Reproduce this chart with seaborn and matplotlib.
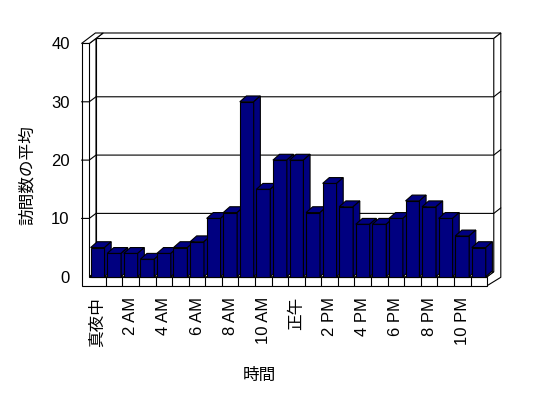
import matplotlib
matplotlib.use("Agg")
import matplotlib.pyplot as plt
import seaborn as sns
import pandas as pd
from matplotlib.patches import Polygon
from matplotlib.lines import Line2D

# ---- data ----
hour_labels = ["真夜中", "1 AM", "2 AM", "3 AM", "4 AM", "5 AM", "6 AM", "7 AM",
               "8 AM", "9 AM", "10 AM", "11 AM", "正午", "1 PM", "2 PM", "3 PM",
               "4 PM", "5 PM", "6 PM", "7 PM", "8 PM", "9 PM", "10 PM", "11 PM"]
visits = [5, 4, 4, 3, 4, 5, 6, 10, 11, 30, 15, 20, 20, 11, 16, 12,
          9, 9, 10, 13, 12, 10, 7, 5]
y_ticks = [0, 10, 20, 30, 40]
grid_values = [10, 20, 30]
x_title = "時間"
y_title = "訪問数の平均"

# ---- style ----
sns.set_style("white")
plt.rcParams['font.family'] = ['Liberation Sans', 'Noto Sans CJK JP']
plt.rcParams['text.color'] = 'black'
plt.rcParams['xtick.color'] = 'black'
plt.rcParams['ytick.color'] = 'black'

NAVY = "#000080"
W, H = 548, 398
fig = plt.figure(figsize=(W / 100, H / 100), dpi=100)
ax = fig.add_axes([81.5 / W, (H - 285.7) / H, 419.8 / W, 253.0 / H])

df = pd.DataFrame({"hour": hour_labels, "visits": visits})
BW = 0.84
sns.barplot(data=df, x="hour", y="visits", color=NAVY, saturation=1,
            width=BW, edgecolor="black", linewidth=0.8, ax=ax)

n = len(visits)
ymax = y_ticks[-1]
# depth offsets (data units)
BDX, BDY = 0.40, 1.0      # bar depth
WDX, WDY = 0.404, 0.86    # back wall inner face
ODX, ODY = 0.838, 1.8     # back wall outer face
XL, X0, X1 = -0.97, -0.5, n - 0.5
FB = -1.54
LW = 0.8

def poly(pts, z, fc="white"):
    p = Polygon(pts, closed=True, facecolor=fc, edgecolor="black",
                linewidth=LW, zorder=z, clip_on=False, joinstyle="miter")
    ax.add_patch(p)

# back wall inner face
poly([(X0 + WDX, WDY), (X1 + WDX, WDY), (X1 + WDX, ymax + WDY), (X0 + WDX, ymax + WDY)], 1)
# back wall top face
poly([(X0 + WDX, ymax + WDY), (X1 + WDX, ymax + WDY), (X1 + ODX, ymax + ODY), (X0 + ODX, ymax + ODY)], 1)
# right side face (floor + wall)
poly([(X1, FB), (X1 + ODX - 0.01, -0.1), (X1 + ODX - 0.01, ymax + ODY),
      (X1 + WDX, ymax + WDY), (X1 + WDX, WDY), (X1, 0)], 1)
# left wall inner face
poly([(X0, 0), (X0, ymax), (X0 + WDX, ymax + WDY), (X0 + WDX, WDY)], 1)
# floor top face
poly([(X0, 0), (X1, 0), (X1 + WDX, WDY), (X0 + WDX, WDY)], 1)
# left wall + floor front (L shape)
poly([(XL, FB), (X1, FB), (X1, 0), (X0, 0), (X0, ymax), (XL, ymax)], 1.2)
# left wall top face
poly([(XL, ymax), (X0, ymax), (X0 + ODX, ymax + ODY), (XL + ODX, ymax + ODY)], 1.1)

# category dividers on floor front
for i in range(n - 1):
    ax.add_line(Line2D([i + 0.5, i + 0.5], [FB, 0], color="black", lw=LW, zorder=1.3))

# gridlines
for v in grid_values:
    ax.add_line(Line2D([XL, X0, X0 + WDX, X1 + WDX, X1 + ODX - 0.01],
                       [v, v, v + WDY, v + WDY, v + ODY],
                       color="black", lw=LW, zorder=1.5, clip_on=False))

# 3D bars: front (seaborn) + top + side
for i, (bar, v) in enumerate(zip(ax.containers[0], visits)):
    z = 3 + i * 0.01
    bar.set_zorder(z)
    xl = bar.get_x()
    xr = xl + bar.get_width()
    poly([(xl, v), (xr, v), (xr + BDX, v + BDY), (xl + BDX, v + BDY)], z + 0.001, NAVY)
    poly([(xr, 0), (xr, v), (xr + BDX, v + BDY), (xr + BDX, BDY)], z + 0.001, NAVY)

ax.set_xlim(XL, X1 + ODX + 0.02)
ax.set_ylim(FB, ymax + ODY + 0.05)
for s in ax.spines.values():
    s.set_visible(False)
ax.set_yticks(y_ticks)
ax.set_yticklabels([str(t) for t in y_ticks], fontsize=12, color="black")
ax.set_xticks(range(0, n, 2))
ax.set_xticklabels(hour_labels[::2], rotation=90, fontsize=12, color="black")
ax.tick_params(axis="y", length=0, pad=8.5)
ax.tick_params(axis="x", length=0, pad=8)
ax.set_xlabel("")
ax.set_ylabel("")
ax.grid(False)
ax.set_facecolor("none")

fig.text(27 / W, 1 - 175 / H, y_title, rotation=90, ha="center", va="center",
         fontsize=12, color="black")
fig.text(259.5 / W, 1 - 375 / H, x_title, ha="center", va="center",
         fontsize=12, color="black")

fig.savefig("out.png", dpi=100, facecolor="white")
